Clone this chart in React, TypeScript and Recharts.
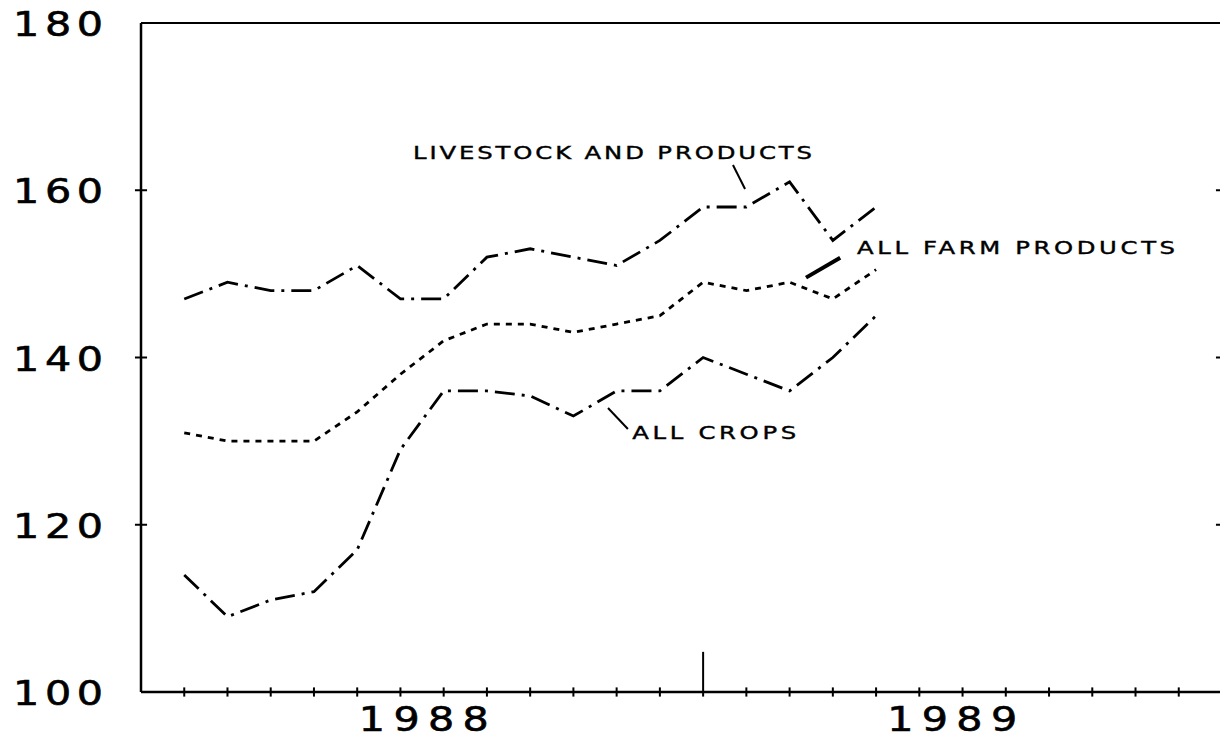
import React from "react";
import { LineChart, Line, XAxis, YAxis, ReferenceLine, ReferenceDot } from "recharts";

const months = [1, 2, 3, 4, 5, 6, 7, 8, 9, 10, 11, 12, 13, 14, 15, 16, 17];
const livestock = [147, 149, 148, 148, 151, 147, 147, 152, 153, 152, 151, 154, 158, 158, 161, 154, 158];
const farm = [131, 130, 130, 130, 133.5, 138, 142, 144, 144, 143, 144, 145, 149, 148, 149, 147, 150.5];
const crops = [114, 109, 111, 112, 117, 129, 136, 136, 135.4, 133, 136, 136, 140, 138, 136, 140, 145];

const yTicks = [100, 120, 140, 160, 180];
const yInnerTicks = [120, 140, 160];
const monthTicks = [1, 2, 3, 4, 5, 6, 7, 8, 9, 10, 11, 12, 13, 14, 15, 16, 17, 18, 19, 20, 21, 22, 23, 24];
const majorTick = 13;
const yearLabels = ["1988", "1989"];
const yearPos = [6.54, 18.76];

const data = months.map((m, i) => ({ m, livestock: livestock[i], farm: farm[i], crops: crops[i] }));

const FONT = "'DejaVu Sans', sans-serif";

const YTick = (p: any) => (
  <g transform={`translate(${p.x},${p.y + 13})`}>
    <text x={0} y={0} transform="scale(1.25,1)" textAnchor="end" fontFamily={FONT} fontSize={33}
      fill="#000" stroke="#000" strokeWidth={0.6} textLength={72} lengthAdjust="spacing">
      {String(p.payload.value)}
    </text>
  </g>
);

const XTick = (p: any) => {
  const idx = yearPos.indexOf(p.payload.value);
  return (
    <g transform={`translate(${p.x},${p.y + 31})`}>
      <text x={0} y={0} transform="scale(1.25,1)" textAnchor="middle" fontFamily={FONT} fontSize={33}
        fill="#000" stroke="#000" strokeWidth={0.6} textLength={104} lengthAdjust="spacing">
        {yearLabels[idx]}
      </text>
    </g>
  );
};

const mkLabel = (txt: string, len: number) => (p: any) => (
  <g transform={`translate(${p.cx},${p.cy})`}>
    <text x={0} y={0} transform="scale(1.35,1)" fontFamily={FONT} fontSize={18} fill="#000"
      stroke="#000" strokeWidth={0.4} textLength={len / 1.35} lengthAdjust="spacing">
      {txt}
    </text>
  </g>
);

const annotations = [
  { text: "LIVESTOCK AND PRODUCTS", x: 6.29, y: 163.74, len: 399 },
  { text: "ALL FARM PRODUCTS", x: 16.56, y: 152.38, len: 318 },
  { text: "ALL CROPS", x: 11.36, y: 130.25, len: 164 },
];

const leaders = [
  { x1: 13.69, y1: 163.02, x2: 13.97, y2: 160.15, w: 2 },
  { x1: 15.38, y1: 149.55, x2: 16.17, y2: 151.94, w: 4 },
  { x1: 10.8, y1: 133.96, x2: 11.26, y2: 131.45, w: 2 },
];

export default function App() {
  return (
    <div style={{ position: "absolute", left: 0, top: 0, width: 1220, height: 740, overflow: "hidden", background: "#fff" }}>
      <LineChart width={1240} height={740} data={data} margin={{ top: 23, right: 18, left: 0, bottom: 0 }}>
        <XAxis dataKey="m" type="number" domain={[0, 25]} ticks={yearPos} tick={XTick}
          tickLine={false} axisLine={{ stroke: "#000", strokeWidth: 2.5 }} height={48} interval={0}
          allowDataOverflow />
        <YAxis type="number" domain={[100, 180]} ticks={yTicks} tick={YTick} tickLine={false}
          tickSize={0} tickMargin={38} width={141} axisLine={{ stroke: "#000", strokeWidth: 2.5 }} />
        <ReferenceLine y={180} stroke="#000" strokeWidth={2} ifOverflow="visible" />
        <ReferenceLine x={25} stroke="#000" strokeWidth={2} ifOverflow="visible" />
        {monthTicks.map((t) => (
          <ReferenceLine key={"mt" + t}
            segment={[{ x: t, y: 99.45 }, { x: t, y: t === majorTick ? 104.8 : 100.55 }]}
            stroke="#000" strokeWidth={2} ifOverflow="visible" />
        ))}
        {yInnerTicks.map((t) => (
          <ReferenceLine key={"yl" + t} segment={[{ x: -0.14, y: t }, { x: 0.14, y: t }]}
            stroke="#000" strokeWidth={2} ifOverflow="visible" />
        ))}
        {yInnerTicks.map((t) => (
          <ReferenceLine key={"yr" + t} segment={[{ x: 24.86, y: t }, { x: 25.14, y: t }]}
            stroke="#000" strokeWidth={2} ifOverflow="visible" />
        ))}
        <Line dataKey="livestock" stroke="#000" strokeWidth={2.8} strokeDasharray="20 7 3 7" dot={false}
          isAnimationActive={false} type="linear" />
        <Line dataKey="farm" stroke="#000" strokeWidth={2.8} strokeDasharray="6 6" dot={false}
          isAnimationActive={false} type="linear" />
        <Line dataKey="crops" stroke="#000" strokeWidth={2.8} strokeDasharray="20 7 3 7" dot={false}
          isAnimationActive={false} type="linear" />
        {leaders.map((l, i) => (
          <ReferenceLine key={"ld" + i} segment={[{ x: l.x1, y: l.y1 }, { x: l.x2, y: l.y2 }]}
            stroke="#000" strokeWidth={l.w} ifOverflow="visible" />
        ))}
        {annotations.map((a, i) => (
          <ReferenceDot key={"an" + i} x={a.x} y={a.y} r={0} ifOverflow="visible" shape={mkLabel(a.text, a.len)} />
        ))}
      </LineChart>
    </div>
  );
}
